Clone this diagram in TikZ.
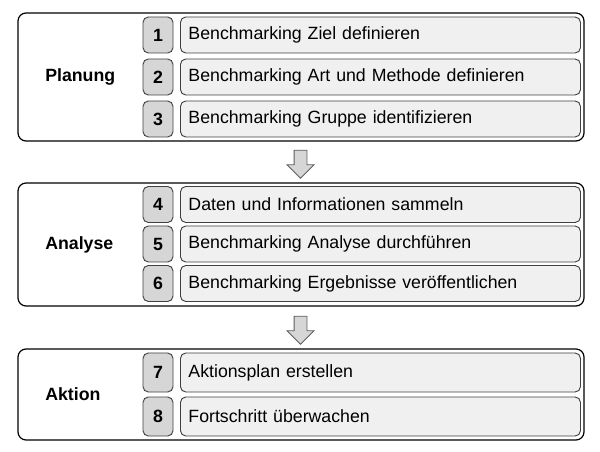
\documentclass[tikz,border=0pt]{standalone}
\usepackage{fontspec}
\setmainfont{Liberation Sans}
\usetikzlibrary{shapes.arrows}
\definecolor{nrgrau}{HTML}{D6D6D6}
\definecolor{txtgrau}{HTML}{F0F0F0}
\definecolor{randgrau}{HTML}{404040}
\newcommand{\schrift}{\fontsize{13.3}{16}\selectfont}
\begin{document}
\begin{tikzpicture}[x=0.75pt, y=-0.75pt,
	phase/.style={draw, rounded corners=6pt, line width=0.9pt, minimum width=424.5pt},
	nummer/.style={draw=randgrau, fill=nrgrau, rounded corners=4pt, line width=0.7pt, minimum width=22.5pt, minimum height=27pt, inner sep=0pt, font=\schrift\bfseries},
	schritt/.style={draw=randgrau, fill=txtgrau, rounded corners=4pt, line width=0.7pt, text width=288pt, inner xsep=6pt, inner ysep=0pt, minimum height=27pt, align=left, anchor=west, font=\schrift},
	titel/.style={anchor=west, inner sep=0pt, font=\schrift\bfseries},
	pfeil/.style={draw=randgrau!85, line width=0.6pt, fill=nrgrau, single arrow, rotate=-90, minimum height=21pt, inner sep=4.5pt, single arrow head extend=5.25pt}]
		\useasboundingbox (0,0) rectangle (600,452);
		\node (rahmen1) [phase, minimum height=96pt] at (301,77) {};
		\node (rahmen2) [phase, minimum height=92.25pt] at (301,244.5) {};
		\node (rahmen3) [phase, minimum height=68.25pt] at (301,394.5) {};
		\node (planung) [titel] at (45,77) {Planung};
		\node (analyse) [titel] at (45,244.5) {Analyse};
		\node (aktion) [titel] at (45,394.5) {Aktion};
		
		% Schritte
		\node (nr1) [nummer] at (158,35) {1};
		\node (nr2) [nummer] at (158,77) {2};
		\node (nr3) [nummer] at (158,119) {3};
		\node (nr4) [nummer] at (158,204.5) {4};
		\node (nr5) [nummer] at (158,244) {5};
		\node (nr6) [nummer] at (158,283.5) {6};
		\node (nr7) [nummer, minimum height=29.25pt] at (158,372.5) {7};
		\node (nr8) [nummer, minimum height=29.25pt] at (158,416.5) {8};
		\node (s1) [schritt] at (180,35) {Benchmarking Ziel definieren};
		\node (s2) [schritt] at (180,77) {Benchmarking Art und Methode definieren};
		\node (s3) [schritt] at (180,119) {Benchmarking Gruppe identifizieren};
		\node (s4) [schritt] at (180,204.5) {Daten und Informationen sammeln};
		\node (s5) [schritt] at (180,244) {Benchmarking Analyse durchführen};
		\node (s6) [schritt] at (180,283.5) {Benchmarking Ergebnisse veröffentlichen};
		\node (s7) [schritt, minimum height=29.25pt] at (180,372.5) {Aktionsplan erstellen};
		\node (s8) [schritt, minimum height=29.25pt] at (180,416.5) {Fortschritt überwachen};
		
		% Arrows
		\node (pfeil1) [pfeil] at (300.5,161) {};
		\node (pfeil2) [pfeil] at (300.5,327) {};
	\end{tikzpicture}
\end{document}
